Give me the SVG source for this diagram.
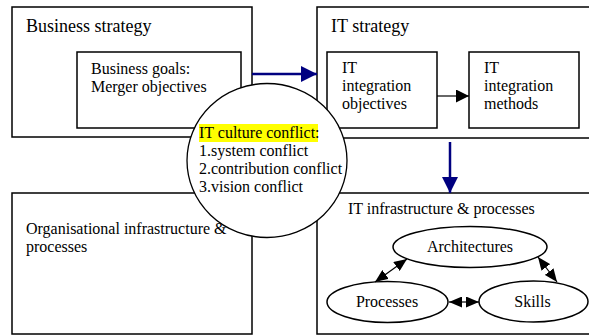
<svg xmlns="http://www.w3.org/2000/svg" width="589" height="336" viewBox="0 0 589 336">
<style>
.t{font-family:'Liberation Serif','Times New Roman',Times,'DejaVu Serif',serif;font-size:16px;fill:#000}
.h{font-size:18px}
.m{text-anchor:middle}
.box{fill:#fff;stroke:#000;stroke-width:1.5}
.blue{stroke:#000080;stroke-width:2.5;fill:none}
.blk{stroke:#000;stroke-width:1.2;fill:none}
</style>
<defs>
<marker id="ab" markerUnits="userSpaceOnUse" markerWidth="16" markerHeight="16" refX="16" refY="8" orient="auto"><path d="M0,0 L16,8 L0,16 Z" fill="#000080"/></marker>
<marker id="ak" markerUnits="userSpaceOnUse" markerWidth="13" markerHeight="13" refX="13" refY="6.5" orient="auto"><path d="M0,0 L13,6.5 L0,13 Z" fill="#000"/></marker>
<marker id="ak2" markerUnits="userSpaceOnUse" markerWidth="13" markerHeight="11" refX="13" refY="5.5" orient="auto-start-reverse"><path d="M0,0 L13,5.5 L0,11 Z" fill="#000"/></marker>
</defs>
<rect width="589" height="336" fill="#fff"/>
<g font-family="'Liberation Serif', 'Times New Roman', 'DejaVu Serif', serif">
<g id="business-strategy">
<rect class="box" x="12" y="7" width="240" height="130"/>
<text class="t h" x="26" y="32">Business strategy</text>
</g>
<g id="business-goals">
<rect class="box" x="77" y="52" width="164" height="76"/>
<text class="t" x="91" y="74">Business goals:</text>
<text class="t" x="91" y="92">Merger objectives</text>
</g>
<g id="it-strategy">
<rect class="box" x="317" y="7" width="290" height="131"/>
<text class="t h" x="331" y="32">IT strategy</text>
</g>
<g id="it-integration-objectives">
<rect class="box" x="327" y="52" width="110" height="76"/>
<text class="t" x="342" y="73">IT</text>
<text class="t" x="342" y="91">integration</text>
<text class="t" x="342" y="109">objectives</text>
</g>
<g id="it-integration-methods">
<rect class="box" x="469" y="52" width="110" height="76"/>
<text class="t" x="484" y="73">IT</text>
<text class="t" x="484" y="91">integration</text>
<text class="t" x="484" y="109">methods</text>
</g>
<g id="org-infrastructure">
<rect class="box" x="12" y="193" width="240" height="141"/>
<text class="t" x="26" y="234">Organisational infrastructure &amp;</text>
<text class="t" x="26" y="252">processes</text>
</g>
<g id="it-infrastructure">
<rect class="box" x="317" y="193" width="290" height="141"/>
<text class="t" x="348" y="214">IT infrastructure &amp; processes</text>
</g>
<g id="architectures">
<ellipse class="box" cx="470" cy="247" rx="77" ry="20.5"/>
<text class="t m" x="470" y="252">Architectures</text>
</g>
<g id="processes">
<ellipse class="box" cx="387.5" cy="302" rx="60.5" ry="20.5"/>
<text class="t m" x="387" y="307">Processes</text>
</g>
<g id="skills">
<ellipse class="box" cx="533.5" cy="301.5" rx="54.5" ry="20.5"/>
<text class="t m" x="532.5" y="307">Skills</text>
</g>
<g id="connectors">
<line class="blue" x1="252" y1="74" x2="317" y2="74" marker-end="url(#ab)"/>
<line class="blue" x1="450" y1="142" x2="450" y2="193" marker-end="url(#ab)"/>
<line class="blk" x1="437" y1="96" x2="469" y2="96" marker-end="url(#ak)"/>
<line class="blk" x1="375" y1="282" x2="407" y2="259" marker-start="url(#ak2)" marker-end="url(#ak2)"/>
<line class="blk" x1="538" y1="257" x2="557" y2="282" marker-start="url(#ak2)" marker-end="url(#ak2)"/>
<line class="blk" x1="449" y1="302" x2="479" y2="302" marker-start="url(#ak2)" marker-end="url(#ak2)"/>
</g>
<g id="it-culture-conflict">
<ellipse cx="267" cy="160.5" rx="80" ry="77" fill="#fff" stroke="#000" stroke-width="1.3"/>
<rect x="199" y="124" width="119" height="18" fill="#ffff00"/>
<text class="t" x="199" y="138">IT culture conflict:</text>
<text class="t" x="199" y="156">1.system conflict</text>
<text class="t" x="199" y="174">2.contribution conflict</text>
<text class="t" x="199" y="192">3.vision conflict</text>
</g>
</g>
</svg>
